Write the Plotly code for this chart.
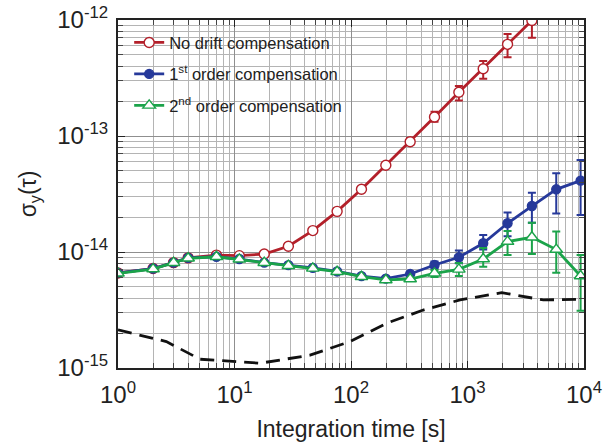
import plotly.graph_objects as go

# Averaging times (s)
tau = [1, 2, 3, 4, 7, 11, 18, 29, 47, 76, 123, 199, 322, 521, 843, 1364,
       2207, 3571, 5778, 9349]

# Allan deviation without drift compensation
sig_none = [6.6e-15, 7.2e-15, 8.1e-15, 8.9e-15, 9.4e-15, 9.3e-15, 9.6e-15,
            1.12e-14, 1.53e-14, 2.24e-14, 3.47e-14, 5.59e-14, 8.93e-14,
            1.46e-13, 2.38e-13, 3.80e-13, 6.17e-13, 9.9e-13, 1.6e-12]
none_hi = [None] * 12 + [9.6e-14, 1.62e-13, 2.70e-13, 4.43e-13, 7.57e-13, 1.2e-12, None]
none_lo = [None] * 12 + [8.4e-14, 1.33e-13, 2.02e-13, 3.12e-13, 4.77e-13, 7.03e-13, None]

# 1st order drift compensation
sig_first = [6.6e-15, 7.2e-15, 8.1e-15, 8.9e-15, 9.1e-15, 8.7e-15, 8.1e-15,
             7.7e-15, 7.3e-15, 6.8e-15, 6.2e-15, 5.9e-15, 6.46e-15, 7.73e-15,
             9.0e-15, 1.19e-14, 1.77e-14, 2.49e-14, 3.47e-14, 4.12e-14]
first_hi = [None] * 13 + [8.3e-15, 1.03e-14, 1.40e-14, 2.19e-14, 3.24e-14, 4.77e-14, 6.21e-14]
first_lo = [None] * 13 + [7.2e-15, 8.0e-15, 1.05e-14, 1.37e-14, 1.79e-14, 2.15e-14, 2.08e-14]

# 2nd order drift compensation
sig_second = [6.55e-15, 7.13e-15, 8.09e-15, 8.83e-15, 9.1e-15, 8.65e-15, 8.09e-15,
              7.62e-15, 7.23e-15, 6.76e-15, 6.12e-15, 5.74e-15, 5.85e-15, 6.55e-15,
              7.09e-15, 8.7e-15, 1.23e-14, 1.34e-14, 1.05e-14, 6.21e-15]
second_hi = [None] * 13 + [7.0e-15, 8.04e-15, 1.08e-14, 1.52e-14, 1.79e-14, 1.50e-14, 9.4e-15]
second_lo = [None] * 13 + [6.1e-15, 6.2e-15, 7.47e-15, 9.4e-15, 9.6e-15, 6.64e-15, 3.12e-15]

# Reference noise floor (dashed curve)
floor_tau = [1, 2.6, 5.06, 16.6, 44.5, 98, 202, 417, 863, 1967, 4477, 9245]
floor_sig = [2.13e-15, 1.69e-15, 1.19e-15, 1.10e-15, 1.29e-15, 1.69e-15,
             2.43e-15, 3.16e-15, 3.86e-15, 4.46e-15, 3.86e-15, 3.91e-15]

x_ticks = [1, 10, 100, 1000, 10000]
x_ticktext = ["10<sup>0</sup>", "10<sup>1</sup>", "10<sup>2</sup>", "10<sup>3</sup>", "10<sup>4</sup>"]
y_ticks = [1e-15, 1e-14, 1e-13, 1e-12]
y_ticktext = ["10<sup>-15</sup>", "10<sup>-14</sup>", "10<sup>-13</sup>", "10<sup>-12</sup>"]

RED = "#b3202a"
BLUE = "#26399a"
GREEN = "#1ba34a"


def err(vals, hi, lo):
    plus = [0 if h is None else h - v for v, h in zip(vals, hi)]
    minus = [0 if l is None else v - l for v, l in zip(vals, lo)]
    return plus, minus


fig = go.Figure()

fig.add_trace(go.Scatter(
    x=floor_tau, y=floor_sig, mode="lines", showlegend=False,
    line=dict(color="#111111", width=2.8, dash="14px,8px"), hoverinfo="skip"))

series = [
    ("No drift compensation", tau[:len(sig_none)], sig_none, none_hi, none_lo,
     RED, "circle", "white", 10),
    ("1<sup>st</sup> order compensation", tau, sig_first, first_hi, first_lo,
     BLUE, "circle", BLUE, 9),
    ("2<sup>nd</sup> order compensation", tau, sig_second, second_hi, second_lo,
     GREEN, "triangle-up", "white", 11),
]
for name, xs, ys, hi, lo, col, sym, fill, size in series:
    plus, minus = err(ys, hi, lo)
    fig.add_trace(go.Scatter(
        x=xs, y=ys, name=name, mode="lines+markers", legendgroup=name,
        line=dict(color=col, width=2.8),
        marker=dict(symbol=sym, size=size, color=fill, line=dict(color=col, width=1.4)),
        error_y=dict(type="data", symmetric=False, array=plus, arrayminus=minus,
                     color=col, thickness=2, width=4),
    ))

axis_common = dict(
    type="log", showline=True, linecolor="#222222", linewidth=2, mirror="ticks",
    ticks="inside", ticklen=7, tickcolor="#222222", tickwidth=1.2,
    showgrid=True, gridcolor="#8f8f8f", gridwidth=1,
    tickfont=dict(size=24, color="#222222"),
    minor=dict(dtick="D1", showgrid=True, gridcolor="#b4b4b4", gridwidth=1,
               ticks="inside", ticklen=5, tickcolor="#444444"),
    zeroline=False, automargin=False,
)

fig.update_layout(
    width=607, height=448,
    margin=dict(l=118, r=23, t=20, b=80),
    paper_bgcolor="white", plot_bgcolor="white",
    font=dict(family="Liberation Sans, Arial, sans-serif", color="#222222"),
    xaxis=dict(axis_common, range=[0, 4], tickvals=x_ticks, ticktext=x_ticktext,
               ticklabelstandoff=4,
               title=dict(text="Integration time [s]", font=dict(size=23), standoff=14)),
    yaxis=dict(axis_common, range=[-15, -12], tickvals=y_ticks, ticktext=y_ticktext,
               ticklabelstandoff=3,
               title=dict(text="σ<sub>y</sub>(τ)", font=dict(size=23), standoff=14)),
    legend=dict(x=0.024, y=0.985, xanchor="left", yanchor="top",
                bgcolor="rgba(0,0,0,0)", font=dict(size=16.5, color="#222222"),
                tracegroupgap=7, itemwidth=30, traceorder="grouped"),
)

fig.write_html("out.html")
